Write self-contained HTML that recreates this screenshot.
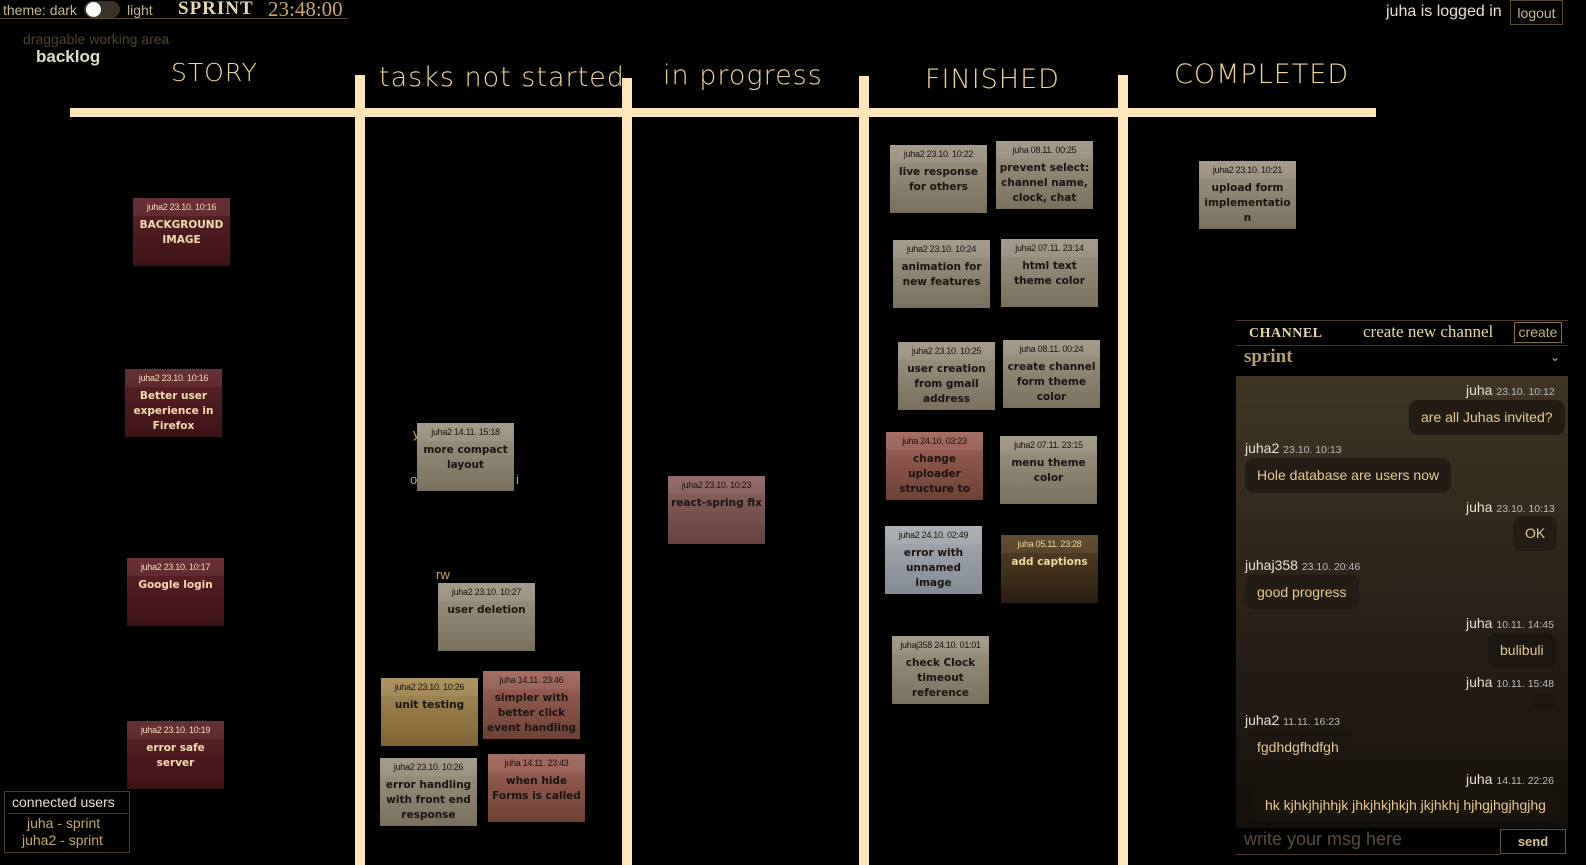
<!DOCTYPE html>
<html><head><meta charset="utf-8"><style>
*{box-sizing:border-box;margin:0;padding:0}
body{width:1586px;height:865px;background:#000;position:relative;overflow:hidden;font-family:"Liberation Sans","DejaVu Sans",sans-serif}
.a{position:absolute}
.bar{position:absolute;background:#fde5b8}
.col{position:absolute;color:#f0d89a;font-family:"DejaVu Sans",sans-serif;font-weight:300;font-size:27px;letter-spacing:1px}
.n{position:absolute;width:97px;height:68px;text-align:center;font-family:"DejaVu Sans",sans-serif;font-weight:bold;font-size:10.5px;line-height:15px;color:#1a1410;overflow:hidden;padding:0 5px}
.n .h{height:18px;line-height:18px;font-family:"Liberation Sans",sans-serif;font-weight:normal;font-size:9px;background:rgba(255,255,255,0.06);margin:0 -5px 2px;letter-spacing:-0.3px}
.g{background:linear-gradient(#a09684,#7a705e)}
.r{background:linear-gradient(#5e2428,#3c1216);color:#f4dcb0}
.b{background:linear-gradient(#a0665a,#6e4034)}
.y{background:linear-gradient(#a88e58,#806436)}
.p{background:linear-gradient(#8e6462,#664240)}
.s{background:linear-gradient(#a8acb2,#848a94)}
.d{background:linear-gradient(#5a4426,#2a1e12);color:#f0d89a}
.m{position:absolute;font-family:"Liberation Sans",sans-serif;color:#e8e0d0;font-size:14px}
.m small{font-size:10.5px;color:#bbb}
.bub{position:absolute;background:#221c14;border-radius:9px;color:#e8c890;font-size:14px;padding:0 12px;height:35px;line-height:35px}
</style></head><body>
<div class="a" style="left:0;top:0;width:348px;height:19px;border-bottom:1px solid #5a4a30"></div>
<div class="a" style="left:3px;top:2px;color:#c8b890;font-size:14px">theme: dark</div>
<div class="a" style="left:84px;top:1px;width:36px;height:17px;border-radius:9px;background:#3a3224"></div>
<div class="a" style="left:86px;top:2px;width:15px;height:15px;border-radius:8px;background:#fff"></div>
<div class="a" style="left:127px;top:2px;color:#c8b890;font-size:14px">light</div>
<div class="a" style="left:178px;top:-2px;color:#e8d8b0;font-family:'Liberation Serif',serif;font-weight:bold;font-size:19px;letter-spacing:1px">SPRINT</div>
<div class="a" style="left:268px;top:-3px;color:#c8a868;font-family:'Liberation Serif',serif;font-size:21px">23:48:00</div>
<div class="a" style="left:23px;top:31px;color:#4e4430;font-size:14px">draggable working area</div>
<div class="a" style="left:36px;top:47px;color:#d8e0c0;font-size:17px;font-weight:bold">backlog</div>
<div class="a" style="left:1386px;top:3px;color:#e8e0d0;font-size:16px">juha is logged in</div>
<div class="a" style="left:1510px;top:0;width:53px;height:25px;border:1px solid #5a4a30;color:#c8b890;font-size:14px;text-align:center;line-height:24px">logout</div>

<div class="col" style="left:171px;top:58px;font-size:25px">STORY</div>
<div class="col" style="left:379px;top:62px">tasks not started</div>
<div class="col" style="left:663px;top:60px">in progress</div>
<div class="col" style="left:925px;top:64px">FINISHED</div>
<div class="col" style="left:1174px;top:59px">COMPLETED</div>
<div class="bar" style="left:70px;top:108px;width:1306px;height:9px"></div>
<div class="bar" style="left:355px;top:75px;width:10px;height:790px"></div>
<div class="bar" style="left:622px;top:78px;width:10px;height:787px"></div>
<div class="bar" style="left:859px;top:76px;width:10px;height:789px"></div>
<div class="bar" style="left:1118px;top:75px;width:10px;height:790px"></div>

<div class="n r" style="left:133px;top:198px"><div class="h">juha2 23.10. 10:16</div>BACKGROUND IMAGE</div>
<div class="n r" style="left:125px;top:369px"><div class="h">juha2 23.10. 10:16</div>Better user experience in Firefox</div>
<div class="n r" style="left:127px;top:558px"><div class="h">juha2 23.10. 10:17</div>Google login</div>
<div class="n r" style="left:127px;top:721px"><div class="h">juha2 23.10. 10:19</div>error safe server</div>

<div class="a" style="left:413px;top:426px;color:#c8a868;font-size:13px">y</div>
<div class="a" style="left:410px;top:472px;color:#c8a868;font-size:13px">o</div>
<div class="a" style="left:516px;top:472px;color:#c8a868;font-size:13px">i</div>
<div class="a" style="left:436px;top:567px;color:#c8a868;font-size:13px">rw</div>
<div class="n g" style="left:417px;top:423px"><div class="h">juha2 14.11. 15:18</div>more compact layout</div>
<div class="n g" style="left:438px;top:583px"><div class="h">juha2 23.10. 10:27</div>user deletion</div>
<div class="n y" style="left:381px;top:678px"><div class="h">juha2 23.10. 10:26</div>unit testing</div>
<div class="n b" style="left:483px;top:671px;padding:0 2px"><div class="h" style="margin:0 -2px 2px">juha 14.11. 23:46</div>simpler with better click event handling</div>
<div class="n g" style="left:380px;top:758px;padding:0 2px"><div class="h" style="margin:0 -2px 2px">juha2 23.10. 10:26</div>error handling with front end response</div>
<div class="n b" style="left:488px;top:754px;padding:0 2px"><div class="h" style="margin:0 -2px 2px">juha 14.11. 23:43</div>when hide Forms is called</div>

<div class="n p" style="left:668px;top:476px;padding:0 2px"><div class="h" style="margin:0 -2px 2px">juha2 23.10. 10:23</div>react-spring fix</div>

<div class="n g" style="left:890px;top:145px"><div class="h">juha2 23.10. 10:22</div>live response for others</div>
<div class="n g" style="left:996px;top:141px;padding:0 2px"><div class="h" style="margin:0 -2px 2px">juha 08.11. 00:25</div>prevent select: channel name, clock, chat</div>
<div class="n g" style="left:893px;top:240px"><div class="h">juha2 23.10. 10:24</div>animation for new features</div>
<div class="n g" style="left:1001px;top:239px;padding:0 10px"><div class="h" style="margin:0 -10px 2px">juha2 07.11. 23:14</div>html text theme color</div>
<div class="n g" style="left:898px;top:342px"><div class="h">juha2 23.10. 10:25</div>user creation from gmail address</div>
<div class="n g" style="left:1003px;top:340px;padding:0 2px"><div class="h" style="margin:0 -2px 2px">juha 08.11. 00:24</div>create channel form theme color</div>
<div class="n b" style="left:886px;top:432px"><div class="h">juha 24.10. 03:23</div>change uploader structure to</div>
<div class="n g" style="left:1000px;top:436px"><div class="h">juha2 07.11. 23:15</div>menu theme color</div>
<div class="n s" style="left:885px;top:526px;padding:0 12px"><div class="h" style="margin:0 -12px 2px">juha2 24.10. 02:49</div>error with unnamed image</div>
<div class="n d" style="left:1001px;top:535px"><div class="h">juha 05.11. 23:28</div>add captions</div>
<div class="n g" style="left:892px;top:636px"><div class="h">juhaj358 24.10. 01:01</div>check Clock timeout reference</div>

<div class="n g" style="left:1199px;top:161px;padding:0 2px"><div class="h" style="margin:0 -2px 2px">juha2 23.10. 10:21</div>upload form implementatio n</div>

<!-- chat -->
<div class="a" style="left:1236px;top:320px;width:332px;height:56px;background:#000;border-top:1px solid #4a3e2a"></div>
<div class="a" style="left:1249px;top:326px;color:#e8d8a8;font-family:'Liberation Serif',serif;font-weight:bold;font-size:14px;letter-spacing:0.5px">CHANNEL</div>
<div class="a" style="left:1363px;top:322px;color:#e8d8a8;font-family:'Liberation Serif',serif;font-size:17px">create new channel</div>
<div class="a" style="left:1514px;top:322px;width:48px;height:21px;border:1px solid #8a7040;color:#c8b080;font-size:14px;text-align:center;line-height:19px">create</div>
<div class="a" style="left:1236px;top:345px;width:332px;height:1px;background:#4a3e2a"></div>
<div class="a" style="left:1244px;top:346px;color:#b8a070;font-family:'Liberation Serif',serif;font-weight:bold;font-size:19px">sprint</div>
<div class="a" style="left:1550px;top:350px;color:#bbb;font-size:12px">⌄</div>
<div class="a" style="left:1236px;top:376px;width:332px;height:452px;background:linear-gradient(#403524,#2a2218 50%,#15100c)"></div>
<div class="m" style="left:1466px;top:382px">juha <small>23.10. 10:12</small></div>
<div class="bub" style="left:1409px;top:400px">are all Juhas invited?</div>
<div class="m" style="left:1245px;top:440px">juha2 <small>23.10. 10:13</small></div>
<div class="bub" style="left:1245px;top:458px">Hole database are users now</div>
<div class="m" style="left:1466px;top:499px">juha <small>23.10. 10:13</small></div>
<div class="bub" style="left:1513px;top:516px">OK</div>
<div class="m" style="left:1245px;top:557px">juhaj358 <small>23.10. 20:46</small></div>
<div class="bub" style="left:1245px;top:575px">good progress</div>
<div class="m" style="left:1466px;top:615px">juha <small>10.11. 14:45</small></div>
<div class="bub" style="left:1488px;top:633px;background:#1c1610">bulibuli</div>
<div class="m" style="left:1466px;top:674px">juha <small>10.11. 15:48</small></div>
<div class="bub" style="left:1532px;top:693px;width:24px;height:16px;background:#1c1610"></div>
<div class="m" style="left:1245px;top:712px">juha2 <small>11.11. 16:23</small></div>
<div class="bub" style="left:1245px;top:730px;background:#1c1610">fgdhdgfhdfgh</div>
<div class="m" style="left:1466px;top:771px">juha <small>14.11. 22:26</small></div>
<div class="bub" style="left:1253px;top:788px;width:306px;background:#1a140e">hk kjhkjhjhhjk jhkjhkjhkjh jkjhkhj hjhgjhgjhgjhg</div>
<div class="a" style="left:1236px;top:828px;width:332px;height:27px;background:#000"></div>
<div class="a" style="left:1244px;top:829px;color:#5a4e3a;font-size:18px">write your msg here</div>
<div class="a" style="left:1236px;top:854px;width:264px;height:1px;background:#4a3e2a"></div>
<div class="a" style="left:1500px;top:829px;width:66px;height:25px;border:1px solid #6a5838;color:#d8c090;font-weight:bold;font-size:13px;text-align:center;line-height:23px">send</div>

<div class="a" style="left:4px;top:791px;width:126px;height:62px;border:1px solid #4a3e2a;background:#000"></div>
<div class="a" style="left:12px;top:794px;color:#e8e0d0;font-size:14px">connected users</div>
<div class="a" style="left:8px;top:813px;width:120px;height:1px;background:#4a3e2a"></div>
<div class="a" style="left:27px;top:815px;color:#c8a868;font-size:14px">juha - sprint</div>
<div class="a" style="left:22px;top:832px;color:#c8a868;font-size:14px">juha2 - sprint</div>
</body></html>
